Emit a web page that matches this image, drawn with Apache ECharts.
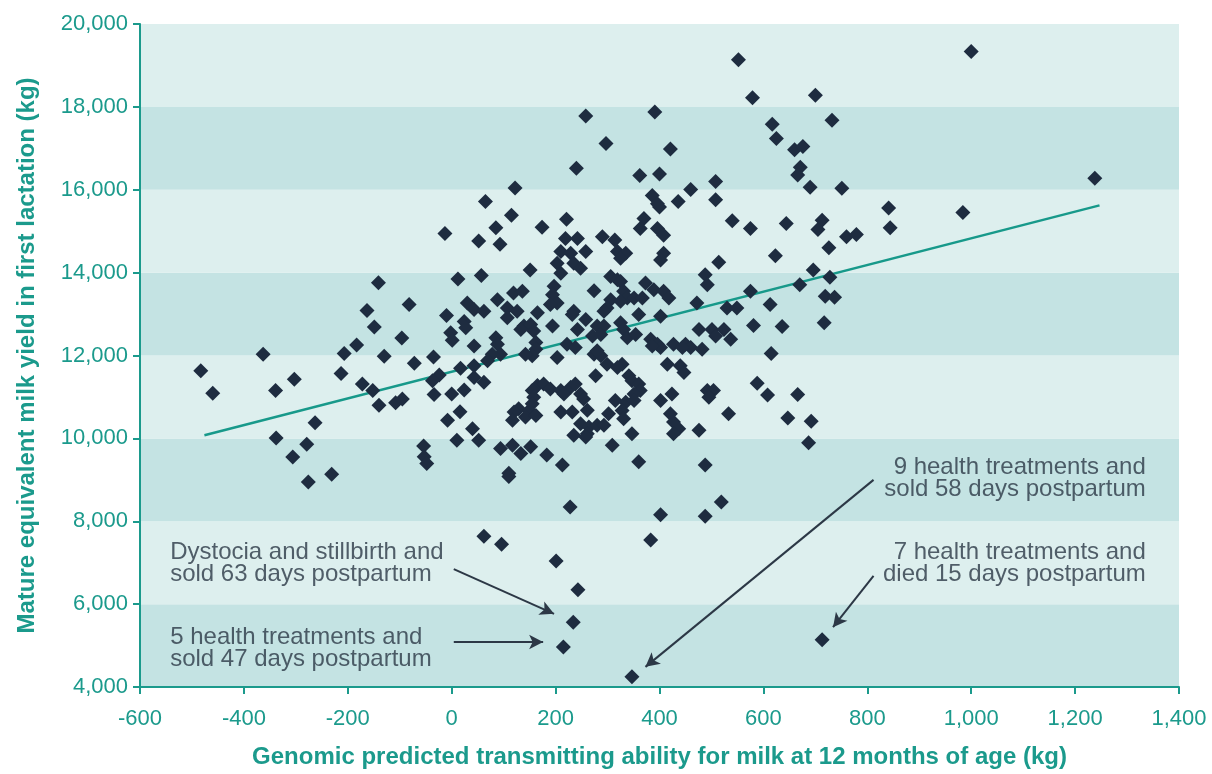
<!DOCTYPE html>
<html>
<head>
<meta charset="utf-8">
<script src="https://cdn.jsdelivr.net/npm/echarts@6/dist/echarts.min.js"></script>
<style>
  html, body { margin: 0; padding: 0; background: #ffffff; overflow: hidden; }
  #chart { width: 1212px; height: 774px; }
</style>
</head>
<body>
<div id="chart"></div>
<script>
// ---- Data ----
// Genomic PTA for milk (kg) and mature-equivalent milk yield (kg)
const gpta = [
  -483,-460,-363,-303,-339,-263,-338,-279,-306,-231,-276,-213,-207,-183,-163,-141,-149,-130,-172,-152,-140,-108,-95,-82,-96,-72,-35,-24,-37,-34,0,24,16,-8,10,-54,-53,-48,12,-10,-2,1,24,27,30,
  210,229,258,319,335,325,408,402,514,
  203,235,248,210,151,57,306,319,325,488,492,
  197,194,203,190,274,119,136,88,373,389,408,418,
  331,338,351,367,325,306,299,293,472,43,62,107,107,126,165,235,232,360,402,530,549,575,
  139,152,158,133,194,258,242,280,293,287,271,325,331,338,354,476,501,524,508,537,
  85,88,94,78,43,162,162,155,142,
  222,238,203,383,396,402,386,427,450,460,444,482,274,287,280,
  17,69,43,43,62,
  299,328,319,277,415,440,447,341,347,360,363,351,
  165,177,190,210,229,238,248,254,216,155,158,
  492,504,495,402,424,
  129,149,155,142,162,120,117,210,232,261,
  315,335,351,328,331,302,248,264,280,293,261,235,258,347,
  421,427,437,427,476,533,
  40,52,94,117,133,152,183,213,110,309,360,488,
  552,258,391,297,421,240,362,400,508,460,508,436,122,65,115,85,52,93,174,221,386,396,400,370,363,396,408,540,290,314,219,242,-13,
  1000,579,700,617,625,732,660,676,671,666,690,751,841,984,844,575,644,713,705,760,779,726,623,1238,
  696,728,670,613,719,737,581,636,717,615,588,608,666,647,692,687,
  110,228,402,488,519,62,96,383,201,243,234,215,347,
  713
];
const milk = [
  11633,11089,12031,11424,11154,10378,10011,9860,9549,9132,8950,11568,12047,12256,13085,13755,12687,11983,11312,11154,10802,10858,10953,13228,12423,11815,11966,11527,11393,11058,11073,11169,10642,10436,9956,9813,9556,9396,13844,12965,12550,12366,12823,12670,13269,
  14507,14466,14507,14507,14466,14346,14466,14306,14251,
  14227,14227,14107,13987,14066,13932,13908,13827,13788,13946,13707,
  13669,13467,13269,13228,13563,13508,13549,13348,13748,13587,13549,13388,
  13549,13388,13388,13388,13309,13348,13149,13070,13269,13108,13070,13149,12909,13070,13029,13070,12988,12988,12950,13149,13149,13549,
  12711,12749,12591,12629,12711,12869,12629,12711,12711,12509,12471,12790,12629,12430,12509,12629,12629,12629,12471,12390,
  12430,12270,12030,12030,12232,12311,12150,11992,12030,
  12270,12191,11951,12390,12270,12191,12232,12270,12270,12191,12191,12150,12030,11992,12112,
  11695,11872,11753,11472,11353,
  11791,11791,11712,11513,11791,11753,11592,11513,11393,11312,11154,11072,
  11274,11312,11192,11154,11233,11312,11072,10952,11072,11154,10993,
  11154,11154,10993,10914,11072,
  10713,10675,10833,10514,10555,10634,10435,10634,10634,10680,
  10914,10874,10914,10675,10474,10593,10354,10275,10315,10315,10114,10076,10035,10114,
  10593,10395,10234,10114,10196,10593,
  10234,9956,9755,9837,9635,9796,9597,9358,9156,9837,9437,9358,
  19136,17778,17874,17117,16981,16519,16341,16382,16198,16006,15759,15719,16040,15719,15383,15082,14761,14682,15096,15288,15862,15664,15585,15304,15065,15065,14904,15249,14866,14785,14825,14825,14945,
  19335,18219,18283,17580,17237,17675,16964,17045,16541,16358,16063,16039,15560,15448,15081,15065,15185,15264,15041,14866,14921,14602,14410,16279,
  14066,13891,13707,13229,13428,13404,12725,12701,12789,12047,11329,11049,11058,10491,10411,9892,
  9077,8342,8159,8119,8462,7640,7442,7545,7042,6347,5564,4965,4247,
  5142
];
// Regression line end points
const trendX = [-476, 1247];
const trendY = [10076, 15623];
// Annotations: text, anchor (data units) and arrow [fromX, fromY, toX, toY] (data units)
const noteTexts = [
  'Dystocia and stillbirth and\nsold 63 days postpartum',
  '5 health treatments and\nsold 47 days postpartum',
  '9 health treatments and\nsold 58 days postpartum',
  '7 health treatments and\ndied 15 days postpartum'
];
const noteAnchorX = [-540, -540, 1338, 1338];
const noteAnchorY = [7490, 5430, 9540, 7490];
const noteAlign = ['left', 'left', 'right', 'right'];
const noteArrows = [
  [4, 6843, 197, 5765],
  [4, 5085, 176, 5085],
  [812, 8998, 373, 4486],
  [812, 6682, 734, 5444]
];
const xTitle = 'Genomic predicted transmitting ability for milk at 12 months of age (kg)';
const yTitle = 'Mature equivalent milk yield in first lactation (kg)';

// ---- Chart ----
const TEAL = '#1b9a8c';
const INK = '#2c3846';
const FONT = '"Liberation Sans", Arial, sans-serif';

const points = gpta.map((x, i) => [x, milk[i]]);
const trend = trendX.map((x, i) => [x, trendY[i]]);
const notes = noteTexts.map((t, i) => ({
  value: [noteAnchorX[i], noteAnchorY[i]],
  label: { formatter: t, align: noteAlign[i] }
}));
const fmt = v => Number(v).toLocaleString('en-US');

const chart = echarts.init(document.getElementById('chart'), null, { renderer: 'canvas' });
chart.setOption({
  animation: false,
  backgroundColor: '#ffffff',
  grid: { left: 140, right: 33, top: 24, bottom: 82, containLabel: false },
  xAxis: {
    type: 'value', min: -600, max: 1400, interval: 200,
    name: xTitle, nameLocation: 'middle', nameGap: 58,
    nameTextStyle: { color: TEAL, fontSize: 24, fontWeight: 'bold', fontFamily: FONT },
    axisLine: { show: true, onZero: false, lineStyle: { color: TEAL, width: 2 } },
    axisTick: { show: true, inside: false, length: 7, lineStyle: { color: TEAL, width: 2 } },
    axisLabel: { color: TEAL, fontSize: 22, fontFamily: FONT, margin: 21, formatter: fmt },
    splitLine: { show: false }
  },
  yAxis: {
    type: 'value', min: 4000, max: 20000, interval: 2000,
    name: yTitle, nameLocation: 'middle', nameGap: 101, nameRotate: 90,
    nameTextStyle: { color: TEAL, fontSize: 24, fontWeight: 'bold', fontFamily: FONT },
    axisLine: { show: true, onZero: false, lineStyle: { color: TEAL, width: 2 } },
    axisTick: { show: true, inside: false, length: 7, lineStyle: { color: TEAL, width: 2 } },
    axisLabel: { color: TEAL, fontSize: 22, fontFamily: FONT, margin: 12, formatter: fmt },
    splitLine: { show: false },
    splitArea: { show: true, areaStyle: { color: ['#c4e3e3', '#ddefee'] } }
  },
  series: [
    {
      type: 'line', data: trend, symbol: 'none', z: 2, silent: true,
      lineStyle: { color: '#17998a', width: 2.5 },
      markLine: {
        silent: true, symbol: ['none', 'arrow'], symbolSize: [11, 14],
        label: { show: false },
        lineStyle: { color: INK, width: 2, type: 'solid' },
        data: noteArrows.map(a => [{ coord: [a[0], a[1]] }, { coord: [a[2], a[3]] }])
      }
    },
    {
      type: 'scatter', data: points, symbol: 'diamond', symbolSize: 15, z: 3,
      itemStyle: { color: '#1e2c40', opacity: 1 }
    },
    {
      type: 'scatter', data: notes, symbol: 'circle', symbolSize: 2, z: 4, silent: true,
      itemStyle: { color: 'rgba(0,0,0,0)' },
      label: {
        show: true, position: [0, 0], verticalAlign: 'top',
        color: INK, fontSize: 24, fontFamily: FONT, lineHeight: 22
      }
    }
  ]
});
</script>
</body>
</html>
